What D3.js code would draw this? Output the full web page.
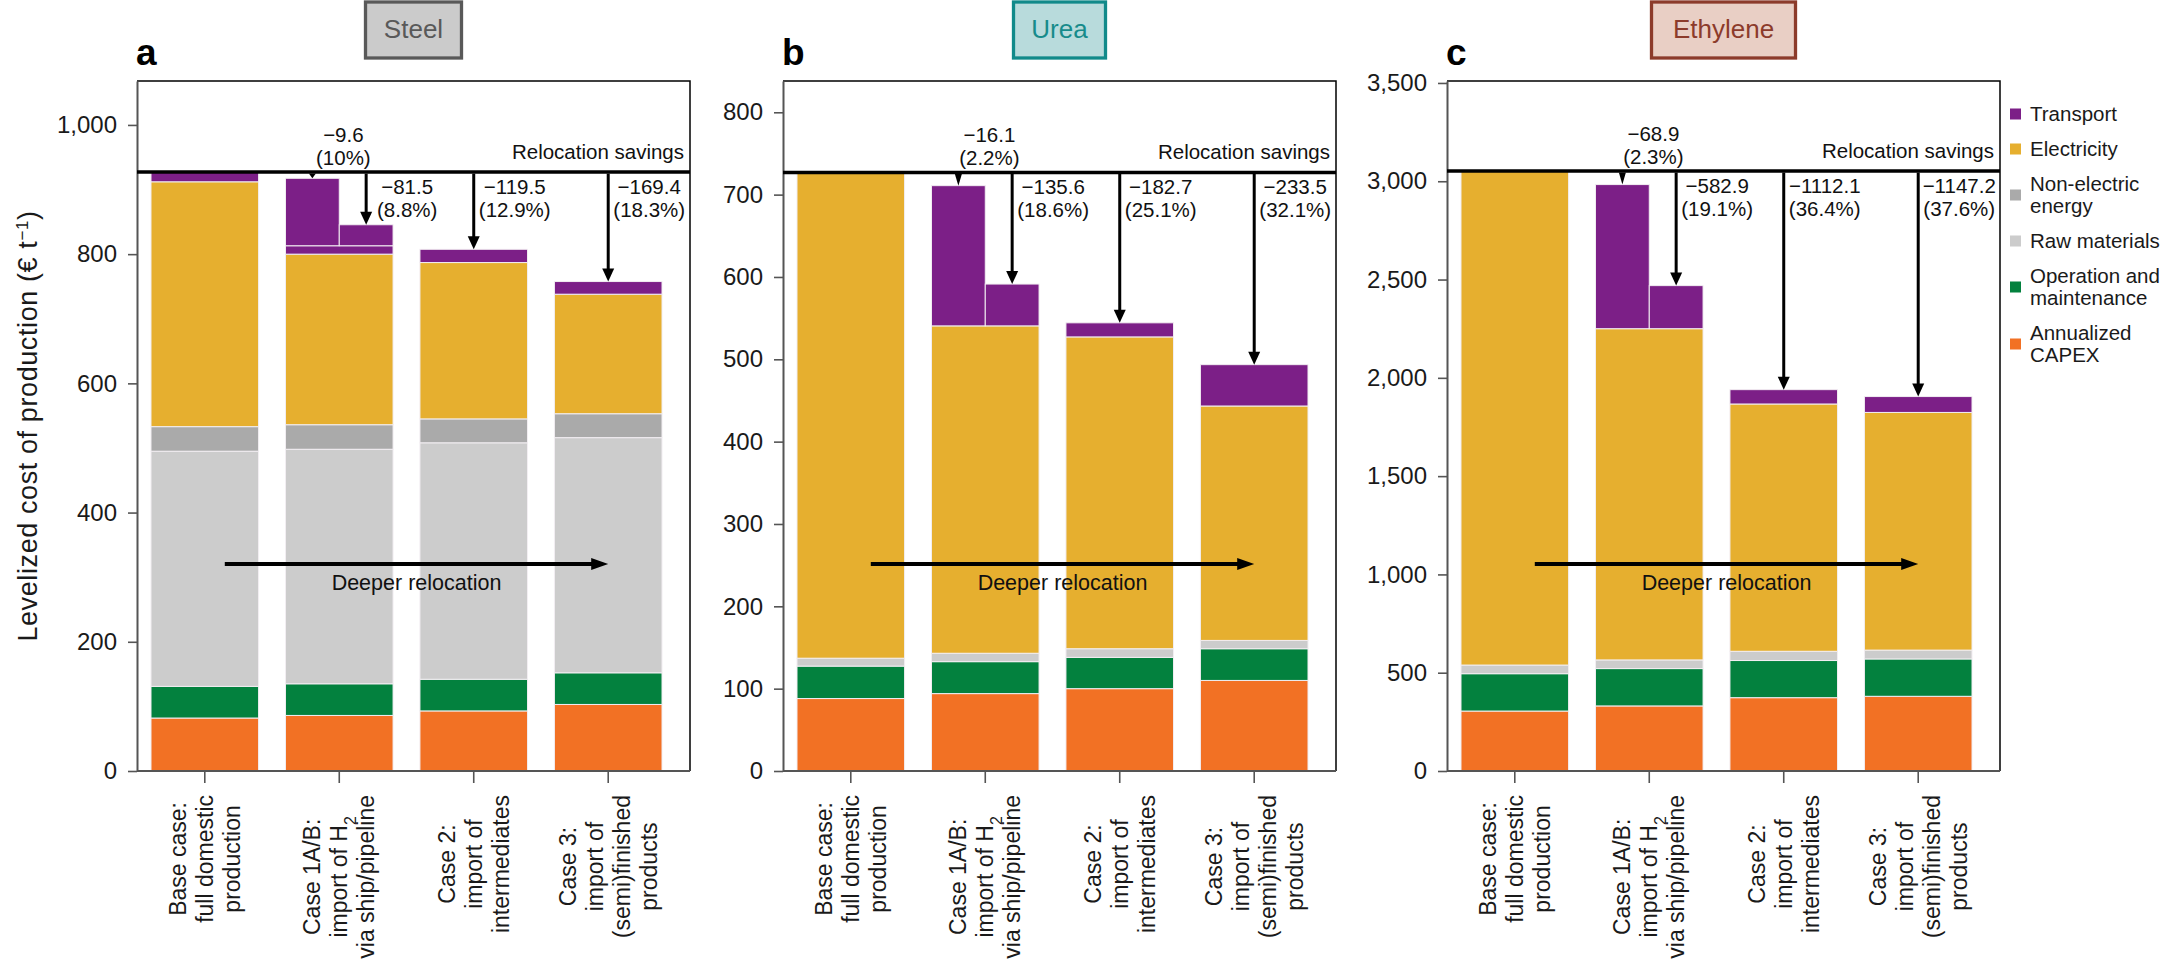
<!DOCTYPE html>
<html lang="en">
<head>
<meta charset="UTF-8">
<title>Levelized cost of production</title>
<script src="https://cdnjs.cloudflare.com/ajax/libs/d3/7.8.5/d3.min.js"></script>
<style>
  body { margin: 0; background: #fff; }
  svg { display: block; font-family: "Liberation Sans", Arial, sans-serif; }
</style>
</head>
<body>
<svg id="chart" width="2170" height="972"></svg>
<script>
// ---- data ----
const caseLabels = [
  ["Base case:", "full domestic", "production"],
  ["Case 1A/B:", "import of H_2", "via ship/pipeline"],
  ["Case 2:", "import of", "intermediates"],
  ["Case 3:", "import of", "(semi)finished", "products"]
];

// stack order bottom -> top
const componentNames = ["Annualized CAPEX", "Operation and maintenance", "Raw materials", "Non-electric energy", "Electricity", "Transport"];
const componentColors = ["#f27124", "#03813e", "#cccccc", "#aaaaaa", "#e6af2f", "#7c1f87"];

// Steel (€ per t)
const steelCapex     = [82, 86, 93, 103];
const steelOM        = [49, 49, 49, 49];
const steelRaw       = [364, 363, 366, 364];
const steelNonElec   = [38, 38, 37, 37];
const steelElec      = [379, 264, 242, 185];
const steelTransport = [15, 13, 20.5, 19.6];
const steelSplit     = [104.4, 32.5];            // case 1A ship, case 1B pipeline
const steelSavings   = [-9.6, -81.5, -119.5, -169.4];
const steelPct       = ["10%", "8.8%", "12.9%", "18.3%"];
const steelTicks     = [0, 200, 400, 600, 800, 1000];

// Urea
const ureaCapex     = [88, 94, 100, 110];
const ureaOM        = [39.4, 38.8, 38, 38.5];
const ureaRaw       = [9.6, 10.2, 10.5, 10.1];
const ureaNonElec   = [0, 0, 0, 0];
const ureaElec      = [590, 397.6, 378.7, 284.7];
const ureaTransport = [0, 0, 17.1, 50.2];
const ureaSplit     = [170.3, 50.8];
const ureaSavings   = [-16.1, -135.6, -182.7, -233.5];
const ureaPct       = ["2.2%", "18.6%", "25.1%", "32.1%"];
const ureaTicks     = [0, 100, 200, 300, 400, 500, 600, 700, 800];

// Ethylene
const ethyleneCapex     = [305, 331, 373, 380];
const ethyleneOM        = [190, 190, 189, 190];
const ethyleneRaw       = [44, 44, 47, 45];
const ethyleneNonElec   = [0, 0, 0, 0];
const ethyleneElec      = [2513, 1685, 1258, 1209];
const ethyleneTransport = [0, 0, 72.9, 80.8];
const ethyleneSplit     = [733.1, 219.1];
const ethyleneSavings   = [-68.9, -582.9, -1112.1, -1147.2];
const ethylenePct       = ["2.3%", "19.1%", "36.4%", "37.6%"];
const ethyleneTicks     = [0, 500, 1000, 1500, 2000, 2500, 3000, 3500];

const panels = [
  { letter: "a", title: "Steel", yMax: 1068, ticks: steelTicks,
    comps: [steelCapex, steelOM, steelRaw, steelNonElec, steelElec, steelTransport],
    split: steelSplit, savings: steelSavings, pct: steelPct,
    box: { w: 96, fill: "#cbcbcb", stroke: "#595959", text: "#595959" } },
  { letter: "b", title: "Urea", yMax: 838, ticks: ureaTicks,
    comps: [ureaCapex, ureaOM, ureaRaw, ureaNonElec, ureaElec, ureaTransport],
    split: ureaSplit, savings: ureaSavings, pct: ureaPct,
    box: { w: 92, fill: "#b8dbdc", stroke: "#118a8a", text: "#178b8b" } },
  { letter: "c", title: "Ethylene", yMax: 3510, ticks: ethyleneTicks,
    comps: [ethyleneCapex, ethyleneOM, ethyleneRaw, ethyleneNonElec, ethyleneElec, ethyleneTransport],
    split: ethyleneSplit, savings: ethyleneSavings, pct: ethylenePct,
    box: { w: 144, fill: "#e9cfc5", stroke: "#8c3b2b", text: "#8c3b2b" } }
];

// ---- layout ----
const frameTop = 81, frameBottom = 771, frameW = 553;
const panelLefts = [137, 783, 1447];
const minus = "\u2212";
const fmt = d3.format(".1f");

const svg = d3.select("#chart");

function arrowDown(g, x, y0, y1, width) {
  const len = y1 - y0;
  const hl = Math.min(13, len);
  const hw = hl < 13 ? 3.5 : 6;
  if (len - hl > 0) {
    g.append("line")
      .attr("x1", x).attr("x2", x)
      .attr("y1", y0).attr("y2", y1 - hl + 1)
      .attr("stroke", "#000").attr("stroke-width", width);
  }
  g.append("path")
    .attr("d", `M${x - hw},${y1 - hl}L${x + hw},${y1 - hl}L${x},${y1}Z`)
    .attr("fill", "#000");
}

function twoLines(g, cx, yTop, l1, l2) {
  const t = g.append("text")
    .attr("font-size", 20.5).attr("text-anchor", "middle").attr("fill", "#111");
  t.append("tspan").attr("x", cx).attr("y", yTop).text(l1);
  t.append("tspan").attr("x", cx).attr("y", yTop + 23).text(l2);
}

panels.forEach((p, pi) => {
  const left = panelLefts[pi], right = left + frameW;
  const g = svg.append("g");

  const x = d3.scaleBand().domain(d3.range(4)).range([left + 14, left + 525]).paddingInner(0.2);
  const y = d3.scaleLinear().domain([0, p.yMax]).range([frameBottom, frameTop]);
  const bw = x.bandwidth();

  // title box + letter
  const cx = left + frameW / 2;
  g.append("rect")
    .attr("x", cx - p.box.w / 2).attr("y", 2)
    .attr("width", p.box.w).attr("height", 56)
    .attr("fill", p.box.fill).attr("stroke", p.box.stroke).attr("stroke-width", 3.3);
  g.append("text")
    .attr("x", cx).attr("y", 38).attr("text-anchor", "middle")
    .attr("font-size", 26).attr("fill", p.box.text).text(p.title);
  g.append("text")
    .attr("x", left - 1).attr("y", 65)
    .attr("font-size", 37).attr("font-weight", "bold").text(p.letter);

  // stacked bars; collect the tops the savings arrows point at
  const tops = [];
  d3.range(4).forEach(i => {
    let base = 0;
    p.comps.forEach((arr, c) => {
      const v = arr[i];
      if (v > 0) {
        g.append("rect")
          .attr("x", x(i)).attr("width", bw)
          .attr("y", y(base + v)).attr("height", y(base) - y(base + v))
          .attr("fill", componentColors[c])
          .attr("stroke", "#f2eef2").attr("stroke-width", 1);
      }
      base += v;
    });
    if (i === 1) {
      // split top: 1A ship (left half), 1B pipeline (right half)
      p.split.forEach((v, k) => {
        g.append("rect")
          .attr("x", x(i) + k * bw / 2).attr("width", bw / 2)
          .attr("y", y(base + v)).attr("height", y(base) - y(base + v))
          .attr("fill", componentColors[5])
          .attr("stroke", "#f2eef2").attr("stroke-width", 1);
        tops.push({ x: x(i) + bw / 4 + k * bw / 2, v: base + v });
      });
    } else if (i > 1) {
      tops.push({ x: x(i) + bw / 2, v: base });
    }
  });

  // frame
  g.append("path")
    .attr("d", `M${left},${frameTop}H${right}V${frameBottom}`)
    .attr("fill", "none").attr("stroke", "#000").attr("stroke-width", 1.5);
  g.append("line")
    .attr("x1", left).attr("x2", right)
    .attr("y1", frameBottom).attr("y2", frameBottom)
    .attr("stroke", "#555").attr("stroke-width", 2);

  // y axis
  const ya = g.append("g")
    .attr("transform", `translate(${left},0)`)
    .call(d3.axisLeft(y).tickValues(p.ticks).tickFormat(d3.format(","))
      .tickSize(9).tickSizeOuter(0).tickPadding(11));
  ya.select(".domain").attr("stroke", "#555").attr("stroke-width", 2);
  ya.selectAll(".tick line").attr("stroke", "#555").attr("stroke-width", 1.6);
  ya.selectAll(".tick text").attr("font-size", 24).attr("fill", "#1a1a1a")
    .attr("font-family", "Liberation Sans, Arial, sans-serif");

  // x ticks
  const xa = g.append("g")
    .attr("transform", `translate(0,${frameBottom})`)
    .call(d3.axisBottom(x).tickSize(12).tickSizeOuter(0).tickFormat(""));
  xa.select(".domain").remove();
  xa.selectAll(".tick line").attr("stroke", "#555").attr("stroke-width", 1.6);

  // x labels, rotated
  caseLabels.forEach((lines, i) => {
    const lg = g.append("g")
      .attr("transform", `translate(${x(i) + bw / 2},795) rotate(-90)`);
    const n = lines.length;
    const texts = lines.map((s, j) => {
      const t = lg.append("text")
        .attr("y", (j - (n - 1) / 2) * 27 + 8)
        .attr("text-anchor", "middle")
        .attr("font-size", 23).attr("fill", "#1a1a1a");
      if (s.includes("_")) {
        const [a, b] = s.split("_");
        t.append("tspan").text(a);
        t.append("tspan").attr("baseline-shift", "sub").attr("font-size", 16).text(b);
      } else {
        t.text(s);
      }
      return t;
    });
    const maxW = d3.max(texts, t => t.node().getComputedTextLength());
    texts.forEach(t => t.attr("x", -maxW / 2));
  });

  // relocation savings line
  const baseTotal = d3.sum(p.comps, arr => arr[0]);
  const yLine = y(baseTotal);
  g.append("line")
    .attr("x1", left).attr("x2", right)
    .attr("y1", yLine).attr("y2", yLine)
    .attr("stroke", "#000").attr("stroke-width", 3.5);
  g.append("text")
    .attr("x", right - 6).attr("y", yLine - 13)
    .attr("text-anchor", "end").attr("font-size", 20.5).attr("fill", "#111")
    .text("Relocation savings");

  // savings arrows + labels
  tops.forEach((t, k) => {
    arrowDown(g, t.x, yLine + 1.5, y(t.v), 3);
    const l1 = minus + fmt(Math.abs(p.savings[k]));
    const l2 = "(" + p.pct[k] + ")";
    if (k === 0) {
      twoLines(g, t.x + 31, yLine - 30, l1, l2);
    } else {
      twoLines(g, t.x + 41, yLine + 22, l1, l2);
    }
  });

  // deeper relocation arrow
  const ax0 = x(0) + bw / 2 + 20, ax1 = x(3) + bw / 2;
  g.append("line")
    .attr("x1", ax0).attr("x2", ax1 - 15)
    .attr("y1", 564).attr("y2", 564)
    .attr("stroke", "#000").attr("stroke-width", 4);
  g.append("path")
    .attr("d", `M${ax1 - 17},${558}L${ax1},564L${ax1 - 17},${570}Z`)
    .attr("fill", "#000");
  g.append("text")
    .attr("x", (ax0 + ax1) / 2).attr("y", 590)
    .attr("text-anchor", "middle").attr("font-size", 21.5).attr("fill", "#111")
    .text("Deeper relocation");
});

// y axis title
const yt = svg.append("text")
  .attr("transform", "translate(37,426) rotate(-90)")
  .attr("text-anchor", "middle").attr("font-size", 27).attr("letter-spacing", 0.6)
  .attr("fill", "#1a1a1a");
yt.append("tspan").text("Levelized cost of production (\u20ac t");
yt.append("tspan").attr("baseline-shift", "super").attr("font-size", 17).text(minus + "1");
yt.append("tspan").text(")");

// legend (top to bottom)
const legendOrder = [5, 4, 3, 2, 1, 0];
const legendLines = [["Transport"], ["Electricity"], ["Non-electric", "energy"], ["Raw materials"],
  ["Operation and", "maintenance"], ["Annualized", "CAPEX"]];
let ly = 114;
legendOrder.forEach((c, k) => {
  const lines = legendLines[k];
  const mid = ly + (lines.length - 1) * 11;
  svg.append("rect")
    .attr("x", 2010).attr("y", mid - 5.5).attr("width", 11).attr("height", 11)
    .attr("fill", componentColors[c]);
  const t = svg.append("text").attr("font-size", 20.5).attr("fill", "#1a1a1a");
  lines.forEach((s, j) => {
    t.append("tspan").attr("x", 2030).attr("y", ly + j * 22 + 7).text(s);
  });
  ly += (lines.length - 1) * 22 + 35;
});
</script>
</body>
</html>
